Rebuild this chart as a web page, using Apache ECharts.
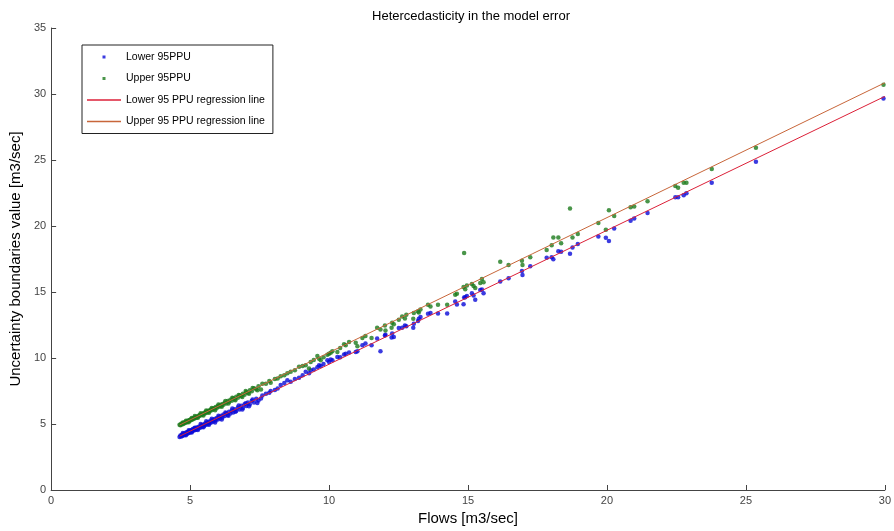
<!DOCTYPE html>
<html>
<head>
<meta charset="utf-8">
<script src="https://cdn.jsdelivr.net/npm/echarts@6/dist/echarts.min.js"></script>
<style>
html,body{margin:0;padding:0;background:#fff;}
#chart{width:894px;height:531px;}
</style>
</head>
<body>
<div id="chart"></div>
<script>
// Flow values (x) and the matching lower / upper 95PPU boundaries (y)
const flows = [
  4.62,4.65,4.68,4.70,4.72,4.75,4.78,4.80,4.83,4.86,4.88,4.90,4.93,4.96,4.98,
  5.00,5.03,5.05,5.08,5.10,5.13,5.15,5.18,5.20,5.23,5.26,5.30,5.33,5.36,5.40,
  5.43,5.46,5.50,5.53,5.56,5.60,5.63,5.66,5.70,5.73,5.76,5.80,5.84,5.88,5.92,
  5.96,6.00,6.04,6.08,6.12,6.16,6.20,6.25,6.30,6.35,6.40,6.45,6.50,6.55,6.60,
  6.66,6.72,6.78,6.84,6.90,6.96,7.02,7.08,7.15,7.22,7.30,7.38,7.46,
  7.55,7.73,7.85,8.15,8.26,8.39,8.50,8.77,8.92,9.16,9.28,9.34,9.58,9.64,9.70,
  9.94,10.00,10.06,10.12,10.30,10.54,10.60,10.72,10.96,11.02,11.20,11.31,11.53,11.73,11.85,
  12.01,12.03,12.25,12.27,12.33,12.51,12.63,12.73,12.78,13.03,13.05,13.20,13.23,13.29,13.56,
  13.65,13.92,14.25,14.54,14.60,14.84,14.86,14.90,14.96,15.14,15.20,15.26,15.44,15.50,15.56,
  16.16,16.46,16.94,16.96,17.24,17.83,18.01,18.07,18.25,18.35,18.67,18.76,18.95,19.69,19.96,
  20.07,20.26,20.85,20.98,21.46,22.46,22.56,22.76,22.86,23.77,25.36,29.95,
  4.74,4.85,4.95,5.06,5.17,5.28,5.38,5.48,5.58,5.68,5.78,5.90,6.02,6.14,6.27,
  6.38,6.52,6.63,6.75,6.88,7.00,7.12,7.25,7.42,7.60,7.90,8.05,8.62,9.05,9.45,
  9.80,10.40
];
const lower95 = [
  4.02,4.12,4.06,4.18,4.10,4.24,4.15,4.30,4.20,4.35,4.25,4.40,4.30,4.45,4.34,
  4.50,4.40,4.55,4.46,4.62,4.50,4.66,4.55,4.70,4.58,4.76,4.66,4.82,4.72,4.90,
  4.78,4.95,4.85,5.02,4.92,5.10,4.98,5.16,5.05,5.24,5.12,5.30,5.18,5.38,5.26,
  5.46,5.35,5.55,5.42,5.62,5.50,5.72,5.60,5.82,5.68,5.92,5.80,6.02,5.88,6.12,
  5.98,6.25,6.10,6.38,6.22,6.50,6.36,6.62,6.50,6.76,6.62,6.92,6.78,
  6.94,7.30,7.37,7.69,7.95,8.10,8.32,8.40,8.50,8.95,8.85,9.08,9.30,9.45,9.40,
  9.83,9.70,9.88,9.83,10.08,10.26,10.33,10.41,10.46,10.51,10.96,11.09,10.96,11.47,10.51,
  11.70,11.77,11.56,11.85,11.59,12.27,12.30,12.47,12.40,12.30,12.60,12.80,12.97,13.10,13.35,
  13.40,13.37,13.37,14.28,14.05,14.08,14.58,14.61,14.70,14.90,14.73,14.41,15.16,15.18,14.91,
  15.79,16.04,16.60,16.29,16.95,17.60,17.63,17.48,18.08,18.05,17.90,18.38,18.63,19.21,19.11,
  18.86,19.82,20.39,20.57,20.99,22.18,22.18,22.33,22.48,23.28,24.87,29.65,
  4.32,4.14,4.52,4.35,4.72,4.55,5.00,4.75,5.20,4.95,5.40,5.12,5.62,5.35,5.88,
  5.62,6.18,5.92,6.40,6.10,6.58,6.35,6.85,6.60,7.15,7.50,7.58,8.20,8.70,9.12,
  9.55,10.05
];
const upper95 = [
  4.95,4.90,5.01,4.97,5.04,5.00,5.10,5.05,5.14,5.12,5.20,5.16,5.26,5.22,5.31,
  5.27,5.36,5.30,5.41,5.36,5.46,5.42,5.52,5.46,5.57,5.52,5.63,5.60,5.70,5.66,
  5.78,5.72,5.84,5.80,5.92,5.86,5.98,5.92,6.05,6.00,6.12,6.06,6.20,6.15,6.28,
  6.22,6.36,6.30,6.44,6.38,6.52,6.46,6.62,6.55,6.74,6.66,6.84,6.76,6.95,6.85,
  7.06,6.98,7.18,7.10,7.30,7.22,7.42,7.35,7.56,7.48,7.70,7.64,7.86,
  7.62,8.05,8.25,8.45,8.62,8.70,8.85,9.08,9.33,9.45,9.20,9.70,10.16,9.95,9.83,
  10.25,10.33,10.40,10.51,10.46,11.04,10.96,11.21,11.15,10.89,11.52,11.67,11.52,12.30,12.15,
  12.47,12.09,12.30,12.67,12.55,12.90,13.15,13.00,13.28,12.97,13.40,13.53,13.45,13.68,14.03,
  13.90,14.03,14.03,14.80,14.86,15.37,17.95,15.20,15.49,15.61,15.45,15.31,15.69,15.99,15.74,
  17.30,17.05,17.37,17.05,17.63,18.18,18.55,19.13,19.13,18.70,21.32,19.13,19.39,20.22,19.71,
  21.20,20.75,21.42,21.48,21.87,23.03,22.90,23.28,23.28,24.32,25.92,30.70,
  5.12,5.25,5.14,5.45,5.60,5.48,5.82,5.65,6.02,5.85,6.22,6.05,6.48,6.30,6.75,
  6.55,6.98,6.80,7.20,7.05,7.50,7.30,7.72,7.55,8.05,8.12,8.40,8.95,9.40,9.85,
  10.05,10.75
];
// Regression line end points
const regX = [4.62, 30];
const lowerReg = [4.07, 29.82];
const upperReg = [4.92, 30.85];

const xTicks = [0, 5, 10, 15, 20, 25, 30];
const yTicks = [0, 5, 10, 15, 20, 25, 30, 35];

const names = ['Lower 95PPU', 'Upper 95PPU', 'Lower 95 PPU regression line', 'Upper 95 PPU regression line'];
const colors = { lowerPt: '#0a0ad8', upperPt: '#1b7a1b', lowerLine: '#dc2038', upperLine: '#c8663a' };

const zip = (xs, ys) => xs.map((x, i) => [x, ys[i]]);
const dotIcon = 'path://M0,0M34,12M15.5,4.5h3v3h-3z';
const lineIcon = 'path://M0,0M34,12M0,5.2h34v1.6h-34z';
const FONT = 'Liberation Sans, Arial, sans-serif';

const chart = echarts.init(document.getElementById('chart'), null, { renderer: 'canvas' });
chart.setOption({
  backgroundColor: '#ffffff',
  animation: false,
  title: {
    text: 'Hetercedasticity in the model error',
    left: 466, top: 5, textAlign: 'center',
    textStyle: { fontFamily: FONT, fontSize: 13, fontWeight: 'normal', color: '#000' }
  },
  grid: { left: 48, right: 9, top: 28, bottom: 39, containLabel: false },
  legend: {
    orient: 'vertical', left: 82, top: 45,
    backgroundColor: '#fff', borderColor: '#222', borderWidth: 1,
    padding: [6, 8, 6, 5], itemGap: 9.5, itemWidth: 34, itemHeight: 12,
    textStyle: { fontFamily: FONT, fontSize: 10.5, color: '#000' },
    data: [
      { name: names[0], icon: dotIcon, itemStyle: { color: colors.lowerPt } },
      { name: names[1], icon: dotIcon, itemStyle: { color: colors.upperPt } },
      { name: names[2], icon: lineIcon, itemStyle: { color: colors.lowerLine, borderWidth: 0 } },
      { name: names[3], icon: lineIcon, itemStyle: { color: colors.upperLine, borderWidth: 0 } }
    ]
  },
  xAxis: {
    type: 'value', min: 0, max: 30, interval: 5,
    name: 'Flows [m3/sec]', nameLocation: 'middle', nameGap: 21,
    nameTextStyle: { fontFamily: FONT, fontSize: 15, color: '#000' },
    axisLine: { show: true, lineStyle: { color: '#444', width: 1 } },
    axisTick: { show: true, inside: true, length: 5, lineStyle: { color: '#444' } },
    axisLabel: { fontFamily: FONT, fontSize: 11, color: '#444', margin: 5,
      formatter: v => xTicks.includes(v) ? String(v) : '' },
    splitLine: { show: false }
  },
  yAxis: {
    type: 'value', min: 0, max: 35, interval: 5,
    name: 'Uncertainty boundaries value [m3/sec]', nameLocation: 'middle', nameGap: 22,
    nameTextStyle: { fontFamily: FONT, fontSize: 15, color: '#000' },
    axisLine: { show: true, lineStyle: { color: '#444', width: 1 } },
    axisTick: { show: true, inside: true, length: 5, lineStyle: { color: '#444' } },
    axisLabel: { fontFamily: FONT, fontSize: 11, color: '#444', margin: 5,
      formatter: v => yTicks.includes(v) ? String(v) : '' },
    splitLine: { show: false }
  },
  series: [
    { name: names[0], type: 'scatter', data: zip(flows, lower95), symbol: 'circle', symbolSize: 4.5,
      itemStyle: { color: colors.lowerPt }, z: 2 },
    { name: names[1], type: 'scatter', data: zip(flows, upper95), symbol: 'circle', symbolSize: 4.5,
      itemStyle: { color: colors.upperPt }, z: 2 },
    { name: names[2], type: 'line', data: zip(regX, lowerReg), showSymbol: false, symbol: 'none',
      lineStyle: { color: colors.lowerLine, width: 1 }, itemStyle: { color: colors.lowerLine }, z: 3 },
    { name: names[3], type: 'line', data: zip(regX, upperReg), showSymbol: false, symbol: 'none',
      lineStyle: { color: colors.upperLine, width: 1 }, itemStyle: { color: colors.upperLine }, z: 3 }
  ]
});
</script>
</body>
</html>
